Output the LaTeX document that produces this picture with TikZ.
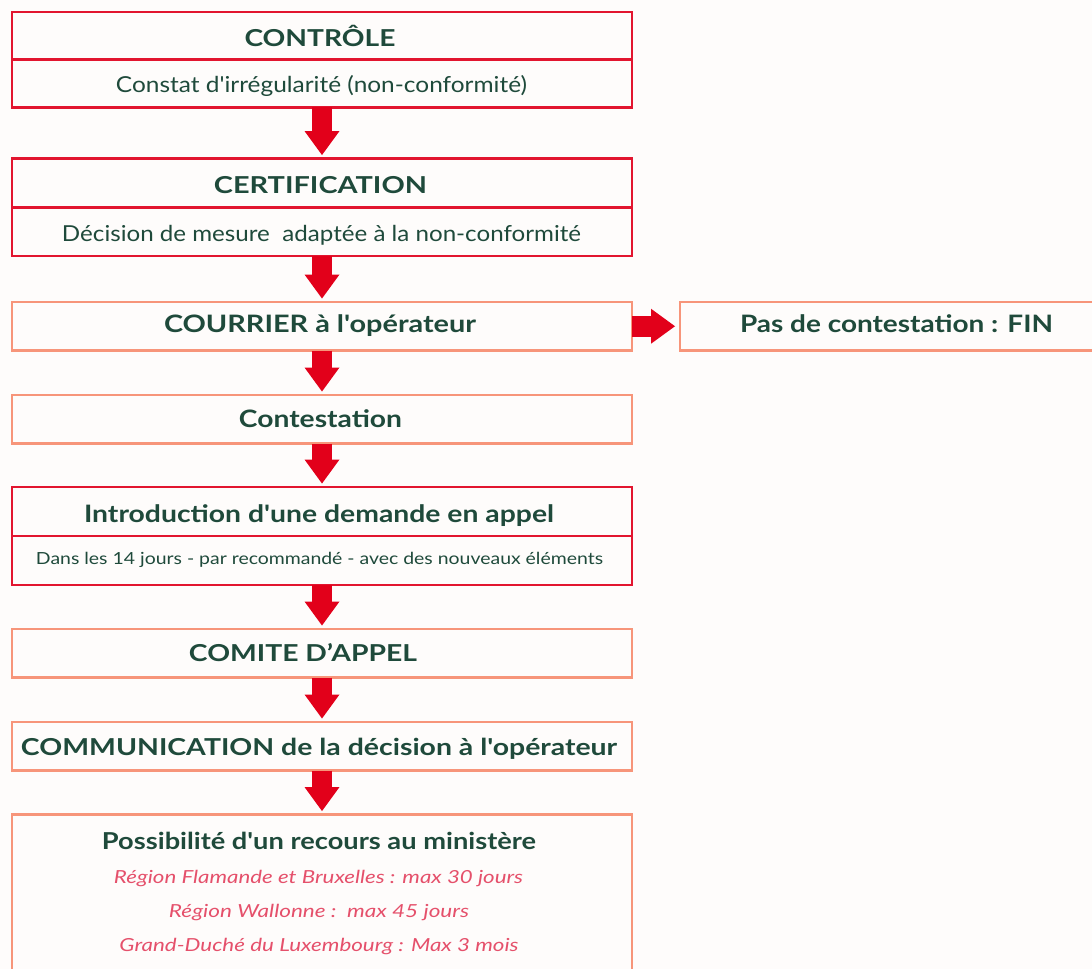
\documentclass[tikz,border=0pt]{standalone}
\usepackage{fontspec}
\setmainfont{Lato}[Ligatures=TeXOff]
\usepackage{graphicx}
\usetikzlibrary{arrows.meta}
\definecolor{bgc}{HTML}{FEFCFB}
\definecolor{redb}{HTML}{E2152F}
\definecolor{salm}{HTML}{F7957A}
\definecolor{arr}{HTML}{E2001A}
\definecolor{txtg}{HTML}{1F4A3B}
\definecolor{pinkt}{HTML}{E5506B}
\newlength\pxu \setlength\pxu{0.75pt}
\newcommand\fitw[2]{\resizebox{#1\pxu}{\height}{#2}}
\begin{document}
\begin{tikzpicture}[x=0.75pt,y=-0.75pt,
  boxbase/.style={rectangle, line width=2pt, inner sep=0pt, outer sep=0pt, minimum width=465pt},
  rbox/.style={boxbase, draw=redb},
  sbox/.style={boxbase, draw=salm},
  divider/.style={draw=redb, line width=2pt},
  tt/.style={anchor=base, inner sep=0pt, outer sep=0pt, text=txtg},
  tbold/.style={tt, font=\fontsize{17.5}{20}\selectfont\bfseries},
  tcond/.style={tt, font=\fontsize{18}{20}\selectfont\bfseries},
  treg/.style={tt, font=\fontsize{16.5}{20}\selectfont},
  tsmall/.style={tt, font=\fontsize{12.5}{15}\selectfont},
  tital/.style={tt, text=pinkt, font=\fontsize{13.5}{16}\selectfont\itshape},
  fat/.style={draw=arr, line width=15.5pt, -{Triangle[width=26.25pt,length=18pt,line width=0pt]}, shorten >=2.6pt}
]
\fill[bgc] (0,0) rectangle (1092,969);
\useasboundingbox (0,0) rectangle (1092,969);

% boxes
\node[rbox, minimum height=71.6pt] (A) at (322,59.75) {};
\node[rbox, minimum height=73.1pt] (B) at (322,207.25) {};
\node[sbox, minimum height=36.4pt] (C) at (322,326.25) {};
\node[sbox, minimum height=36.4pt, minimum width=326.25pt] (D) at (897.5,326.25) {};
\node[sbox, minimum height=36.4pt] (E) at (322,419.25) {};
\node[rbox, minimum height=73.5pt] (F) at (322,536) {};
\node[sbox, minimum height=36.4pt] (G) at (322,653.25) {};
\node[sbox, minimum height=36.4pt] (H) at (322,746.25) {};
\node[sbox, minimum height=131.6pt] (I) at (322,902.25) {};

% dividers
\draw[divider] (A.west) -- (A.east);
\draw[divider] (B.west) -- (B.east);
\draw[divider] (F.west) -- (F.east);

% texts
\node[tbold] (tA1) at (320,47) {\fitw{151}{CONTRÔLE}};
\node[treg] (tA2) at (321.5,93) {\fitw{411}{Constat d\textquotesingle irrégularité (non-conformité)}};
\node[tbold] (tB1) at (320.5,194) {\fitw{213}{CERTIFICATION}};
\node[treg] (tB2) at (321.5,242) {\fitw{519}{Décision de mesure\ \ adaptée à la non-conformité}};
\node[tcond] (tC) at (320,333) {\fitw{312}{COURRIER à l'opérateur}};
\node[tcond] (tD) at (896.5,333) {\fitw{313}{Pas de contestation : FIN}};
\node[tcond] (tE) at (320.5,428) {\fitw{163}{Contestation}};
\node[tcond] (tF1) at (319,522.5) {\fitw{470}{Introduction d'une demande en appel}};
\node[tsmall] (tF2) at (319.5,565) {\fitw{567}{Dans les 14 jours - par recommandé - avec des nouveaux éléments}};
\node[tbold] (tG) at (303,661) {\fitw{228}{COMITE D’APPEL}};
\node[tbold] (tH) at (319,755) {\fitw{596}{COMMUNICATION de la décision à l'opérateur}};
\node[tbold] (tI1) at (319,849) {\fitw{434}{Possibilité d'un recours au ministère}};
\node[tital] (tI2) at (318.5,883) {\fitw{409}{Région Flamande et Bruxelles : max 30 jours}};
\node[tital] (tI3) at (319,917) {\fitw{300}{Région Wallonne :\ \ max 45 jours}};
\node[tital] (tI4) at (319,951.5) {\fitw{399}{Grand-Duché du Luxembourg : Max 3 mois}};

% arrows
\draw[fat] (A.south) -- (B.north);
\draw[fat] (B.south) -- (C.north);
\draw[fat, shorten >=3.75pt] (C.east) -- (D.west);
\draw[fat] (C.south) -- (E.north);
\draw[fat] (E.south) -- (F.north);
\draw[fat] (F.south) -- (G.north);
\draw[fat] (G.south) -- (H.north);
\draw[fat] (H.south) -- (I.north);
\end{tikzpicture}
\end{document}
